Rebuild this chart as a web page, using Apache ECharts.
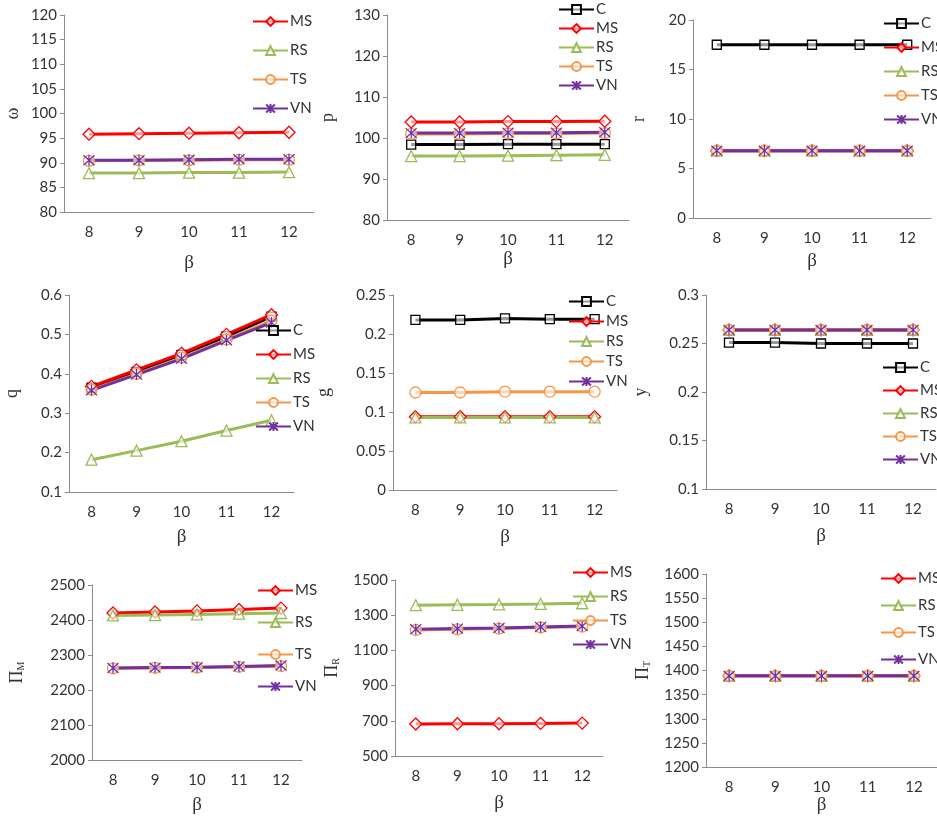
<!DOCTYPE html>
<html>
<head>
<meta charset="utf-8">
<script src="https://cdn.jsdelivr.net/npm/echarts@6/dist/echarts.min.js"></script>
<style>
  html, body { margin: 0; padding: 0; background: #fff; }
  #main { width: 937px; height: 816px; }
</style>
</head>
<body>
<div id="main"></div>
<script>
"use strict"
var betas = ['8', '9', '10', '11', '12'];

// ω
var wMS = [95.8, 95.9, 96.0, 96.1, 96.2];
var wRS = [87.9, 87.9, 88.0, 88.0, 88.1];
var wTS = [90.4, 90.5, 90.5, 90.6, 90.6];
var wVN = [90.5, 90.5, 90.6, 90.7, 90.7];
// p
var pC  = [98.4, 98.4, 98.5, 98.5, 98.5];
var pMS = [103.9, 103.9, 104.0, 104.0, 104.1];
var pRS = [95.6, 95.6, 95.7, 95.8, 95.9];
var pTS = [101.0, 101.0, 101.1, 101.1, 101.2];
var pVN = [101.2, 101.2, 101.3, 101.3, 101.4];
// r
var rC  = [17.5, 17.5, 17.5, 17.5, 17.5];
var rMS = [6.8, 6.8, 6.8, 6.8, 6.8];
var rRS = [6.8, 6.8, 6.8, 6.8, 6.8];
var rTS = [6.8, 6.8, 6.8, 6.8, 6.8];
var rVN = [6.8, 6.8, 6.8, 6.8, 6.8];
// q
var qC  = [0.365, 0.405, 0.448, 0.495, 0.545];
var qMS = [0.368, 0.410, 0.452, 0.500, 0.550];
var qRS = [0.182, 0.205, 0.229, 0.256, 0.282];
var qTS = [0.360, 0.400, 0.441, 0.487, 0.535];
var qVN = [0.358, 0.398, 0.438, 0.485, 0.530];
// g
var gC  = [0.218, 0.218, 0.220, 0.219, 0.219];
var gMS = [0.094, 0.094, 0.094, 0.094, 0.094];
var gRS = [0.093, 0.093, 0.093, 0.093, 0.093];
var gTS = [0.125, 0.125, 0.126, 0.126, 0.126];
var gVN = [];
// y
var yC  = [0.251, 0.251, 0.250, 0.250, 0.250];
var yMS = [0.264, 0.264, 0.264, 0.264, 0.264];
var yRS = [0.264, 0.264, 0.264, 0.264, 0.264];
var yTS = [0.264, 0.264, 0.264, 0.264, 0.264];
var yVN = [0.264, 0.264, 0.264, 0.264, 0.264];
// Π_M
var mMS = [2420, 2423, 2426, 2430, 2434];
var mRS = [2413, 2414, 2416, 2418, 2420];
var mTS = [2262, 2263, 2264, 2266, 2268];
var mVN = [2263, 2264, 2265, 2267, 2270];
// Π_R
var kMS = [682, 683, 683, 685, 687];
var kRS = [1357, 1359, 1361, 1364, 1368];
var kTS = [1216, 1220, 1224, 1230, 1235];
var kVN = [1220, 1224, 1227, 1233, 1238];
// Π_T
var tMS = [1389, 1389, 1389, 1389, 1389];
var tRS = [1389, 1389, 1389, 1389, 1389];
var tTS = [1389, 1389, 1389, 1389, 1389];
var tVN = [1389, 1389, 1389, 1389, 1389];

var star = 'path://M5,0L5,10M0.5,0.5L9.5,9.5M9.5,0.5L0.5,9.5';
var styles = {
	C:  { color: '#000000', symbol: 'rect', size: 9 },
	MS: { color: '#ff0000', symbol: 'diamond', size: 12 },
	RS: { color: '#9bbb59', symbol: 'triangle', size: 11 },
	TS: { color: '#f79646', symbol: 'circle', size: 11 },
	VN: { color: '#7030a0', symbol: star, size: 11 }
};

// panel layout: grid box, axis range, names, legend box
var panels = [
	{ name: '{s|ω}', box: [64, 15, 250, 197], min: 80, max: 120, step: 5, nameGap: 42, xGap: 42,
	  series: { MS: wMS, RS: wRS, TS: wTS, VN: wVN }, legend: [252, 14, 14] },
	{ name: '{s|p}', box: [387, 15, 242, 205], min: 80, max: 130, step: 10, nameGap: 50, xGap: 30,
	  series: { C: pC, MS: pMS, RS: pRS, TS: pTS, VN: pVN }, legend: [558, 2, 4] },
	{ name: '{s|r}', box: [693, 20, 238, 198], min: 0, max: 20, step: 5, nameGap: 45, xGap: 34,
	  series: { C: rC, MS: rMS, RS: rRS, TS: rTS, VN: rVN }, legend: [883, 16, 9] },
	{ name: '{s|q}', box: [69, 295, 225, 197], min: 0.1, max: 0.6, step: 0.1, nameGap: 48, xGap: 36,
	  series: { C: qC, MS: qMS, RS: qRS, TS: qTS, VN: qVN }, legend: [255, 323, 9] },
	{ name: '{s|g}', box: [393, 295, 224, 195], min: 0, max: 0.25, step: 0.05, nameGap: 60, xGap: 38,
	  series: { C: gC, MS: gMS, RS: gRS, TS: gTS, VN: gVN }, legend: [568, 294, 5] },
	{ name: '{s|y}', box: [706, 295, 230, 194], min: 0.1, max: 0.3, step: 0.05, nameGap: 56, xGap: 38,
	  series: { C: yC, MS: yMS, RS: yRS, TS: yTS, VN: yVN }, legend: [882, 360, 8] },
	{ name: '{s|Π}{b|M}', box: [92, 585, 210, 175], min: 2000, max: 2500, step: 100, nameGap: 66, xGap: 36,
	  series: { MS: mMS, RS: mRS, TS: mTS, VN: mVN }, legend: [257, 583, 17] },
	{ name: '{s|Π}{b|R}', box: [395, 580, 208, 176], min: 500, max: 1500, step: 200, nameGap: 54, xGap: 38,
	  series: { MS: kMS, RS: kRS, TS: kTS, VN: kVN }, legend: [572, 565, 9] },
	{ name: '{s|Π}{b|T}', box: [706, 574, 233, 194], min: 1200, max: 1600, step: 50, nameGap: 54, xGap: 28,
	  series: { MS: tMS, RS: tRS, TS: tTS, VN: tVN }, legend: [880, 571, 12] }
];

var axisColor = '#8c8c8c';
var labelFont = { color: '#333', fontFamily: 'Lato', fontSize: 15 };

var option = {
	animation: false,
	backgroundColor: '#fff',
	grid: [], xAxis: [], yAxis: [], legend: [], series: []
};

panels.forEach(function (pn, i) {
	option.grid.push({ left: pn.box[0], top: pn.box[1], width: pn.box[2], height: pn.box[3] });
	option.xAxis.push({
		type: 'category', gridIndex: i, data: betas, boundaryGap: true,
		name: 'β', nameLocation: 'middle', nameGap: pn.xGap,
		nameTextStyle: { fontFamily: 'Liberation Serif', fontSize: 19, color: '#333' },
		axisLine: { lineStyle: { color: axisColor } },
		axisTick: { length: 5, lineStyle: { color: axisColor } },
		axisLabel: Object.assign({ margin: 13 }, labelFont)
	});
	option.yAxis.push({
		type: 'value', gridIndex: i, min: pn.min, max: pn.max, interval: pn.step,
		name: pn.name, nameLocation: 'middle', nameRotate: 90, nameGap: pn.nameGap,
		nameTextStyle: {
			rich: {
				s: { fontFamily: 'Liberation Serif', fontSize: 18, color: '#333' },
				b: { fontFamily: 'Liberation Serif', fontSize: 10, color: '#333', verticalAlign: 'bottom', padding: [8, 0, 0, 0] }
			}
		},
		axisLine: { show: true, lineStyle: { color: axisColor } },
		axisTick: { show: true, length: 4, lineStyle: { color: axisColor } },
		splitLine: { show: false },
		axisLabel: Object.assign({ margin: 7, formatter: function (v) { return String(v); } }, labelFont)
	});
	var names = Object.keys(pn.series);
	option.legend.push({
		orient: 'vertical', left: pn.legend[0], top: pn.legend[1], itemGap: pn.legend[2],
		itemWidth: 35, itemHeight: 11, padding: 0,
		data: names,
		textStyle: Object.assign({ padding: [0, 0, 0, -3] }, labelFont)
	});
	names.forEach(function (key) {
		var st = styles[key];
		option.series.push({
			name: key, type: 'line', xAxisIndex: i, yAxisIndex: i,
			data: pn.series[key],
			symbol: st.symbol, symbolSize: st.size, showAllSymbol: true,
			lineStyle: { color: st.color, width: 3 },
			itemStyle: { color: key === 'VN' ? st.color : 'rgba(255,255,255,0.6)', borderColor: st.color, borderWidth: 1.3 }
		});
	});
});

var myChart = echarts.init(document.getElementById('main'));
myChart.setOption(option, true);
</script>
</body>
</html>
